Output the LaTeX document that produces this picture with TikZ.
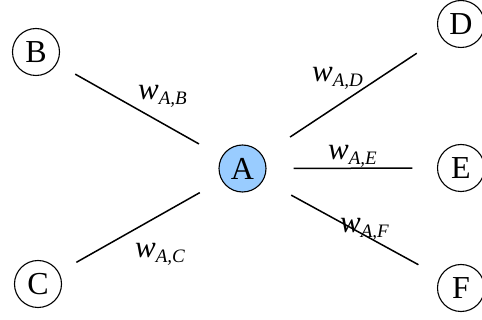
\documentclass[tikz,border=0pt]{standalone}
\usepackage{fontspec}
\setmainfont{Liberation Serif}
\begin{document}
\begin{tikzpicture}[x=1pt,y=-1pt,
  vert/.style={circle,draw=black,line width=1.1pt,minimum size=47pt,inner sep=0pt,
    font=\fontsize{32}{32}\selectfont},
  edge/.style={line width=1.5pt},
  wlab/.style={anchor=base west,inner sep=0pt}]
\useasboundingbox (0,0) rectangle (482,320);
\newcommand{\wl}[1]{{\fontsize{31}{31}\selectfont\itshape w}\raisebox{-4.5pt}{\fontsize{19}{19}\selectfont\itshape #1}}
\node[vert,fill={rgb,255:red,153;green,204;blue,255}] (A) at (242.5,168.5) {A};
\node[vert] (B) at (36,52) {B};
\node[vert] (C) at (38,284) {C};
\node[vert] (D) at (461,24) {D};
\node[vert] (E) at (461,168) {E};
\node[vert] (F) at (461,288) {F};
\draw[edge,shorten <=21pt,shorten >=26pt] (B) -- (A);
\draw[edge,shorten <=20pt,shorten >=25pt] (C) -- (A);
\draw[edge,shorten <=33pt,shorten >=29pt] (A) -- (D);
\draw[edge,shorten <=27pt,shorten >=24.5pt] (A) -- (E);
\draw[edge,shorten <=31.5pt,shorten >=24.5pt] (A) -- (F);
\node[wlab] (lb) at (138,100) {\wl{A,B}};
\node[wlab] (lc) at (135,258) {\wl{A,C}};
\node[wlab] (ld) at (312,82) {\wl{A,D}};
\node[wlab] (le) at (328,160) {\wl{A,E}};
\node[wlab] (lf) at (340,233) {\wl{A,F}};
\end{tikzpicture}
\end{document}
